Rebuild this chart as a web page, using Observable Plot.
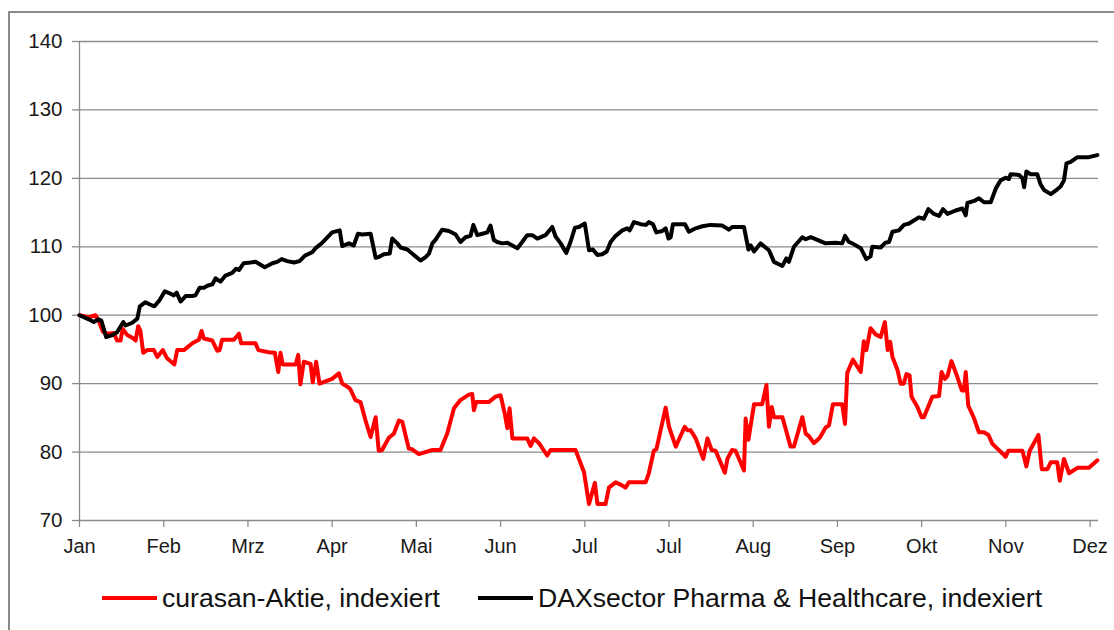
<!DOCTYPE html>
<html>
<head>
<meta charset="utf-8">
<script src="https://cdn.jsdelivr.net/npm/d3@7"></script>
<script src="https://cdn.jsdelivr.net/npm/@observablehq/plot@0.6"></script>
<style>
  html, body { margin: 0; padding: 0; background: #fff; }
  body { width: 1114px; height: 630px; position: relative; overflow: hidden; font-family: "Liberation Sans", Arial, sans-serif; }
  #frame { position: absolute; left: 8px; top: 11px; width: 1300px; height: 800px; border-left: 2px solid #8a8a8a; border-top: 2px solid #8a8a8a; }
  #chart { position: absolute; left: 0; top: 0; }
  #chart svg { font-family: "Liberation Sans", Arial, sans-serif; color: #1a1a1a; }
  #chart svg g[aria-label^="x-axis"] text { font-size: 20px; }
  #chart svg g[aria-label^="y-axis"] text { font-size: 20.5px; }
  #chart svg g[aria-label^="x-axis"] path, #chart svg g[aria-label^="x-axis"] line,
  #chart svg g[aria-label^="y-axis"] path, #chart svg g[aria-label^="y-axis"] line { stroke: #8c8c8c; stroke-width: 1.3px; stroke-opacity: 1; }
  .legend-item { position: absolute; top: 582px; height: 32px; display: flex; align-items: center; font-size: 26.6px; color: #111; white-space: nowrap; }
  .swatch { width: 55px; height: 4px; margin-right: 5px; }
</style>
</head>
<body>
<div id="frame"></div>
<div id="chart"></div>
<div class="legend-item" style="left:102px"><span class="swatch" style="background:#ff0000"></span><span id="lab1"></span></div>
<div class="legend-item" style="left:478px"><span class="swatch" style="background:#000000"></span><span id="lab2"></span></div>
<script>
// Tick labels (German month abbreviations, as shown on the chart)
const monthLabels = ["Jan", "Feb", "Mrz", "Apr", "Mai", "Jun", "Jul", "Jul", "Aug", "Sep", "Okt", "Nov", "Dez"];
const tickDays = [0, 30, 60, 90, 120, 150, 180, 210, 240, 270, 300, 330, 360];
const yTicks = [70, 80, 90, 100, 110, 120, 130, 140];

const seriesNames = ["curasan-Aktie, indexiert", "DAXsector Pharma & Healthcare, indexiert"];

// curasan share, indexed (day offset, value)
const curasanDays = [0, 3.3, 5.7, 6.7, 8.3, 9.9, 12.2, 13.4, 14.6, 15.4, 17.0, 18.8, 20.0, 20.9, 21.7, 22.7, 24.1, 26.5, 27.7, 29.7, 31.2, 33.8, 34.8, 37.2, 40.2, 42.5, 43.5, 44.3, 47.3, 49.1, 49.9, 50.8, 55.0, 56.8, 57.6, 62.7, 63.7, 67.4, 69.6, 70.8, 71.6, 72.4, 77.0, 77.9, 78.7, 79.9, 82.3, 83.1, 84.3, 85.5, 90.0, 92.4, 93.6, 96.0, 96.6, 98.3, 100.1, 101.9, 103.7, 105.5, 106.6, 107.8, 110.2, 112.0, 113.8, 115.0, 117.3, 118.5, 120.9, 125.7, 128.6, 131.0, 133.4, 135.7, 138.7, 139.9, 140.5, 141.3, 145.8, 148.2, 150.0, 151.5, 152.4, 153.2, 154.2, 159.5, 160.7, 161.9, 163.7, 166.6, 167.8, 176.7, 179.7, 181.5, 183.6, 184.5, 187.4, 188.6, 191.0, 193.4, 194.5, 195.7, 201.7, 202.8, 204.6, 205.5, 208.8, 210.0, 212.4, 215.6, 216.5, 217.7, 219.5, 222.2, 223.7, 225.2, 226.6, 229.9, 230.8, 232.5, 233.7, 236.7, 237.3, 238.3, 240.3, 243.2, 244.7, 245.6, 246.6, 247.4, 250.4, 253.3, 254.5, 257.5, 258.7, 259.9, 261.6, 263.7, 265.8, 267.0, 268.4, 271.7, 272.7, 273.5, 275.5, 278.3, 279.4, 280.3, 281.8, 283.6, 285.4, 286.9, 287.9, 288.8, 289.6, 291.4, 292.5, 293.6, 294.6, 295.7, 296.4, 298.5, 300.0, 300.8, 303.8, 306.2, 307.1, 308.3, 309.2, 310.6, 312.7, 314.3, 315.1, 315.7, 316.6, 318.7, 320.4, 322.2, 323.8, 325.2, 328.8, 329.9, 330.9, 335.9, 337.3, 338.5, 341.6, 342.8, 344.8, 346.0, 348.3, 349.2, 350.7, 352.5, 355.5, 359.6, 362.6];
const curasanValues = [100.0, 99.7, 100.0, 99.3, 97.6, 97.3, 97.4, 96.3, 96.3, 98.0, 97.1, 96.7, 96.3, 98.4, 97.7, 94.5, 94.9, 94.9, 93.9, 94.9, 93.7, 92.8, 94.9, 94.9, 95.9, 96.4, 97.7, 96.6, 96.3, 94.8, 94.9, 96.4, 96.4, 97.3, 95.9, 95.9, 94.9, 94.6, 94.5, 91.7, 94.5, 92.8, 92.8, 94.2, 89.9, 93.2, 92.9, 90.2, 93.2, 90.0, 90.7, 91.5, 90.0, 89.4, 89.1, 87.6, 87.3, 84.6, 82.2, 85.1, 80.2, 80.3, 82.1, 82.7, 84.6, 84.4, 80.5, 80.4, 79.7, 80.3, 80.3, 82.7, 86.4, 87.6, 88.4, 88.5, 86.1, 87.3, 87.3, 88.1, 88.3, 85.6, 83.5, 86.4, 82.0, 82.0, 80.9, 82.0, 81.3, 79.5, 80.3, 80.3, 77.1, 72.4, 75.5, 72.4, 72.4, 74.8, 75.6, 75.1, 74.8, 75.6, 75.6, 76.9, 80.2, 80.4, 86.5, 83.7, 80.8, 83.7, 83.2, 83.2, 82.0, 79.0, 82.0, 80.3, 80.2, 77.0, 79.0, 80.3, 80.2, 77.3, 84.9, 81.8, 87.0, 87.0, 89.8, 83.7, 86.6, 85.1, 85.1, 80.8, 80.8, 85.1, 82.7, 82.3, 81.3, 82.1, 83.6, 83.9, 87.0, 87.0, 84.1, 91.6, 93.5, 91.7, 96.2, 94.9, 98.1, 97.2, 96.8, 99.0, 94.9, 96.1, 93.9, 92.0, 90.0, 90.0, 91.4, 91.2, 88.1, 86.6, 85.1, 85.1, 88.1, 88.2, 91.7, 90.7, 91.1, 93.3, 91.0, 89.0, 89.0, 91.7, 86.8, 84.9, 82.9, 82.9, 82.5, 81.2, 79.8, 79.3, 80.2, 80.2, 77.9, 80.2, 82.5, 77.5, 77.5, 78.5, 78.5, 75.8, 79.0, 76.9, 77.7, 77.7, 78.8];

// DAXsector Pharma & Healthcare, indexed (day offset, value)
const daxDays = [0, 3.3, 5.1, 6.7, 7.8, 9.5, 11.7, 13.4, 15.6, 16.4, 18.8, 20.6, 21.5, 23.5, 24.9, 26.7, 28.5, 30.4, 32.1, 33.6, 34.6, 36.0, 37.8, 40.2, 41.3, 42.8, 44.3, 45.5, 47.3, 48.5, 50.2, 52.0, 54.4, 55.8, 56.8, 58.5, 60.9, 62.7, 66.0, 68.7, 70.4, 72.0, 74.0, 76.4, 78.4, 80.3, 82.9, 84.1, 86.5, 90.0, 92.7, 93.6, 96.0, 97.7, 99.2, 100.7, 103.7, 105.5, 106.6, 108.4, 110.5, 111.4, 113.2, 114.4, 116.8, 119.1, 121.5, 123.3, 124.5, 125.7, 126.8, 129.2, 131.6, 134.0, 135.7, 137.5, 139.3, 140.3, 141.7, 143.5, 145.3, 146.4, 147.6, 148.8, 150.6, 152.4, 154.2, 156.0, 157.7, 159.5, 161.3, 163.1, 166.0, 168.4, 169.6, 171.4, 173.4, 174.9, 176.5, 177.9, 180.0, 181.5, 182.9, 184.5, 186.2, 187.8, 189.2, 191.0, 193.4, 195.1, 196.0, 197.5, 199.9, 201.7, 202.8, 204.3, 205.5, 207.6, 208.8, 209.8, 210.6, 211.4, 215.7, 217.1, 219.5, 221.9, 224.8, 229.0, 231.3, 232.5, 236.7, 238.3, 239.1, 240.3, 242.6, 245.6, 247.4, 250.4, 251.8, 252.7, 254.5, 257.5, 258.7, 260.5, 265.8, 269.4, 271.7, 272.7, 274.1, 275.3, 278.3, 280.3, 281.8, 282.4, 285.4, 287.1, 288.4, 289.6, 291.9, 293.7, 295.5, 299.0, 300.8, 302.4, 304.4, 306.2, 307.6, 309.2, 312.1, 314.5, 315.7, 316.3, 318.7, 320.4, 322.2, 324.6, 326.4, 328.1, 329.9, 331.1, 331.7, 334.7, 335.9, 336.5, 337.3, 338.8, 341.2, 342.4, 343.6, 346.0, 348.3, 349.5, 350.7, 351.6, 353.1, 355.5, 359.6, 362.6];
const daxValues = [100.0, 99.4, 99.0, 99.4, 99.2, 96.8, 97.1, 97.5, 99.0, 98.5, 98.9, 99.5, 101.3, 101.9, 101.6, 101.3, 102.2, 103.5, 103.2, 102.9, 103.3, 102.0, 102.8, 102.8, 102.9, 104.0, 104.0, 104.3, 104.5, 105.4, 104.9, 105.8, 106.2, 106.8, 106.6, 107.6, 107.7, 107.8, 107.0, 107.6, 107.8, 108.2, 107.9, 107.7, 107.9, 108.7, 109.2, 109.8, 110.6, 112.1, 112.4, 110.1, 110.5, 110.2, 111.9, 111.8, 111.9, 108.4, 108.5, 108.9, 109.0, 111.2, 110.5, 109.9, 109.6, 108.8, 108.0, 108.5, 109.0, 110.5, 111.0, 112.5, 112.3, 111.8, 110.7, 111.4, 111.6, 113.2, 111.7, 111.9, 112.1, 113.1, 111.0, 110.7, 110.5, 110.6, 110.2, 109.8, 110.7, 111.7, 111.7, 111.2, 111.7, 112.9, 111.5, 110.5, 109.1, 110.7, 112.8, 112.9, 113.4, 109.5, 109.6, 108.8, 108.9, 109.3, 110.7, 111.6, 112.4, 112.7, 112.4, 113.6, 113.3, 113.2, 113.6, 113.3, 112.1, 112.3, 112.7, 111.2, 111.4, 113.3, 113.3, 112.2, 112.7, 113.0, 113.2, 113.1, 112.5, 112.9, 112.9, 109.6, 110.2, 109.3, 110.5, 109.5, 107.8, 107.2, 108.3, 107.8, 110.0, 111.4, 111.1, 111.4, 110.5, 110.6, 110.5, 111.6, 110.7, 110.5, 109.8, 108.2, 108.6, 110.0, 109.9, 110.6, 110.7, 112.2, 112.4, 113.2, 113.4, 114.3, 114.1, 115.5, 114.8, 114.5, 115.5, 114.8, 115.3, 115.6, 114.6, 116.4, 116.7, 117.1, 116.5, 116.5, 118.5, 119.7, 120.1, 119.9, 120.6, 120.5, 120.0, 118.7, 121.0, 120.6, 120.6, 119.1, 118.3, 117.7, 118.4, 118.8, 119.7, 122.2, 122.4, 123.1, 123.1, 123.4];

const curasan = curasanDays.map((d, i) => ({day: d, value: curasanValues[i]}));
const dax = daxDays.map((d, i) => ({day: d, value: daxValues[i]}));

const chart = Plot.plot({
  width: 1114,
  height: 560,
  marginLeft: 79,
  marginRight: 16,
  marginTop: 41,
  marginBottom: 40,
  style: {background: "transparent", fontSize: "20px"},
  x: {
    domain: [0, 363],
    ticks: tickDays,
    tickFormat: (d) => monthLabels[tickDays.indexOf(d)],
    tickSize: 7,
    tickPadding: 11,
    label: null
  },
  y: {
    domain: [70, 140],
    ticks: yTicks,
    tickSize: 7,
    tickPadding: 10,
    label: null
  },
  marks: [
    Plot.ruleY(yTicks, {stroke: "#8c8c8c", strokeWidth: 1.3}),
    Plot.ruleX([0], {stroke: "#8c8c8c", strokeWidth: 1.3}),
    Plot.line(curasan, {x: "day", y: "value", stroke: "#ff0000", strokeWidth: 4, strokeLinejoin: "round", strokeLinecap: "round"}),
    Plot.line(dax, {x: "day", y: "value", stroke: "#000000", strokeWidth: 4, strokeLinejoin: "round", strokeLinecap: "round"})
  ]
});
document.getElementById("chart").appendChild(chart);
document.getElementById("lab1").textContent = seriesNames[0];
document.getElementById("lab2").textContent = seriesNames[1];
</script>
</body>
</html>
